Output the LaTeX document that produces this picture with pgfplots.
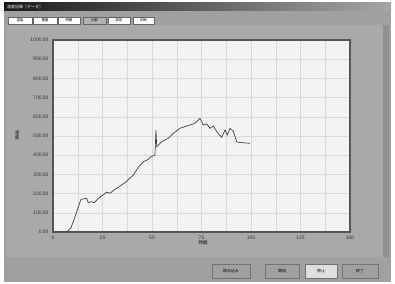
\documentclass[border=0pt]{standalone}
\usepackage{pgfplots}
\pgfplotsset{compat=1.18}
\usepackage{fontspec}
\setmainfont{Liberation Sans}
\newfontfamily\jp{Noto Sans CJK JP}
\definecolor{win}{HTML}{A0A0A0}
\definecolor{panel}{HTML}{A9A9A9}
\definecolor{plotbg}{HTML}{F3F3F3}
\definecolor{frame}{HTML}{555555}
\definecolor{curve}{HTML}{404040}
\begin{document}
\begin{tikzpicture}
\fill[white] (0bp,0bp) rectangle (395bp,284bp);
\fill[win] (4bp,2bp) rectangle (391bp,281bp);
\shade[left color=black!90, right color=black!35] (4bp,273bp) rectangle (391bp,281bp);
\node[anchor=west, text=white, font=\jp\fontsize{4}{4}\selectfont, inner sep=0pt] at (7bp,277bp) {温度記録［データ］};
\fill[panel] (6bp,27bp) rectangle (383bp,259bp);
\fill[win!90!black] (383bp,27bp) rectangle (389bp,259bp);
% tabs
\foreach \a/\b/\t/\c in {8/32/温度/white,33/57/重量/white,58/80/時間/white,83/106/比較/gray!60,108/130/設定/white,133/154/印刷/white}{
  \draw[black!60, fill=\c] (\a bp,260bp) rectangle (\b bp,267bp);
  \node[font=\jp\fontsize{3.5}{3.5}\selectfont, inner sep=0pt] at ({(\a+\b)/2*1bp},263.5bp) {\t};
}
% bottom buttons
\foreach \a/\b/\t/\c in {212/250/読み込み/win,265/299/開始/win,305/337/停止/gray!25,342/378/終了/win}{
  \draw[black!55, fill=\c] (\a bp,6bp) rectangle (\b bp,20bp);
  \node[font=\jp\fontsize{4}{4}\selectfont, inner sep=0pt] at ({(\a+\b)/2*1bp},13bp) {\t};
}
\begin{axis}[
  at={(53bp,52bp)}, anchor=south west,
  scale only axis, width=297bp, height=192bp,
  xmin=0, xmax=150, ymin=0, ymax=1000,
  xtick={0,25,...,150}, minor xtick={12.5,37.5,...,137.5},
  ytick={0,100,...,1000},
  grid=both,
  major grid style={gray!30, line width=0.5pt},
  minor grid style={gray!30, line width=0.5pt},
  major tick length=0pt, minor tick length=0pt,
  axis background/.style={fill=plotbg},
  axis line style={frame, line width=1.1pt},
  tick label style={font=\fontsize{5}{6}\selectfont, text=black!80},
  yticklabel style={/pgf/number format/.cd, fixed, fixed zerofill, precision=2, 1000 sep={}},
  xticklabel style={/pgf/number format/.cd, fixed, precision=0},
  /pgf/number format/assume math mode=true,
  xticklabel shift=1pt, yticklabel shift=1pt,
]
\addplot[curve, line width=0.7pt] coordinates {
(0,0) (6.9,0) (9.1,22) (11.5,90) (14.1,170) (17.0,175) (17.8,153) (19.5,158) (20.9,153)
(22.9,175) (27.1,207) (28.8,202) (31.3,222) (36.4,257) (40.6,297) (43.1,337)
(45.6,366) (48.1,378) (49,389) (51.5,401) (52,531) (52.4,444) (54.9,470)
(58.2,488) (60.8,514) (64.1,540) (67.5,552) (70.9,563) (72.6,574) (74.2,592)
(75.1,574) (75.9,557) (77.6,563) (79.3,540) (81.0,552) (82.7,523) (85.2,493)
(86.9,531) (88.0,505) (89.4,540) (91.1,523) (92.8,470) (94.4,466) (99.5,462)
};
\end{axis}
\node[font=\jp\fontsize{4.5}{5}\selectfont, align=center, inner sep=0pt] at (17bp,149bp) {温\\度};
\node[font=\jp\fontsize{4.5}{5}\selectfont, inner sep=0pt] at (203bp,41bp) {時間};
\end{tikzpicture}
\end{document}
